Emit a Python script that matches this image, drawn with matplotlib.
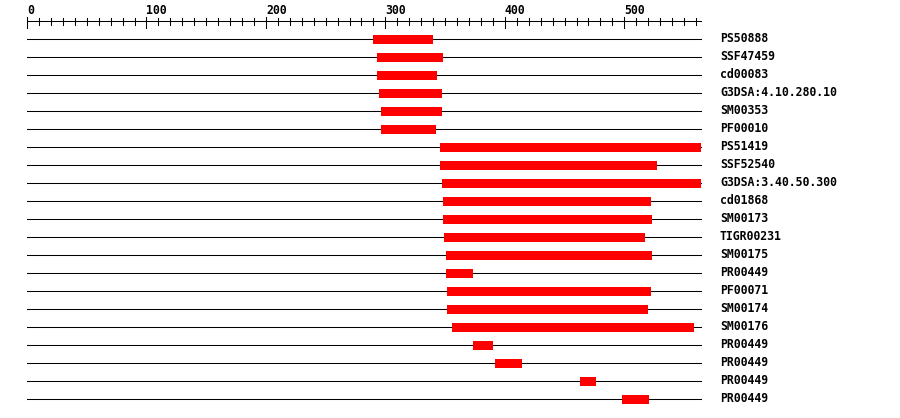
import matplotlib
matplotlib.use("Agg")
import matplotlib.pyplot as plt

# domaines (nom, debut, fin)
seq_len = 564
names = ["PS50888", "SSF47459", "cd00083", "G3DSA:4.10.280.10", "SM00353",
         "PF00010", "PS51419", "SSF52540", "G3DSA:3.40.50.300", "cd01868",
         "SM00173", "TIGR00231", "SM00175", "PR00449", "PF00071", "SM00174",
         "SM00176", "PR00449", "PR00449", "PR00449", "PR00449"]
starts = [290, 293, 293, 295, 296, 296, 346, 346, 347, 348, 348, 349, 351,
          351, 352, 352, 356, 373, 392, 463, 498]
ends = [340, 348, 343, 347, 347, 342, 564, 527, 564, 522, 523, 517, 523,
        373, 522, 520, 558, 390, 414, 476, 521]
tick_major = [0, 100, 200, 300, 400, 500]

W, H = 900, 418
x0 = 27        # pixel de la position 0
ppu = 1.1946   # pixels par residu

fig = plt.figure(figsize=(W / 100, H / 100), dpi=100)
ax = fig.add_axes([0, 0, 1, 1])
ax.set_xlim(-x0 / ppu, (W - x0) / ppu)
ax.set_ylim(H, 0)
ax.axis("off")

lw = 0.75
font = dict(family="DejaVu Sans Mono", weight="bold", fontsize=8.3)

# regle en haut
axis_y = 21
ax.plot([0, seq_len], [axis_y, axis_y], color="black", lw=lw)
for t in range(0, seq_len, 10):
    if t in tick_major:
        ax.plot([t, t], [17, 28], color="black", lw=lw)
        ax.text(t, 4, str(t), ha="left", va="top", **font)
    else:
        ax.plot([t, t], [18, 25], color="black", lw=lw)

# une ligne par domaine
for i, (n, s, e) in enumerate(zip(names, starts, ends)):
    y = 39 + 18 * i
    ax.plot([0, seq_len], [y, y], color="black", lw=lw, zorder=1)
    ax.barh(y + 0.5, e - s, left=s, height=9, color="red", zorder=2)
    ax.text((720 - x0) / ppu, y, n, ha="left", va="center", **font)

fig.savefig("out.png", dpi=100)
